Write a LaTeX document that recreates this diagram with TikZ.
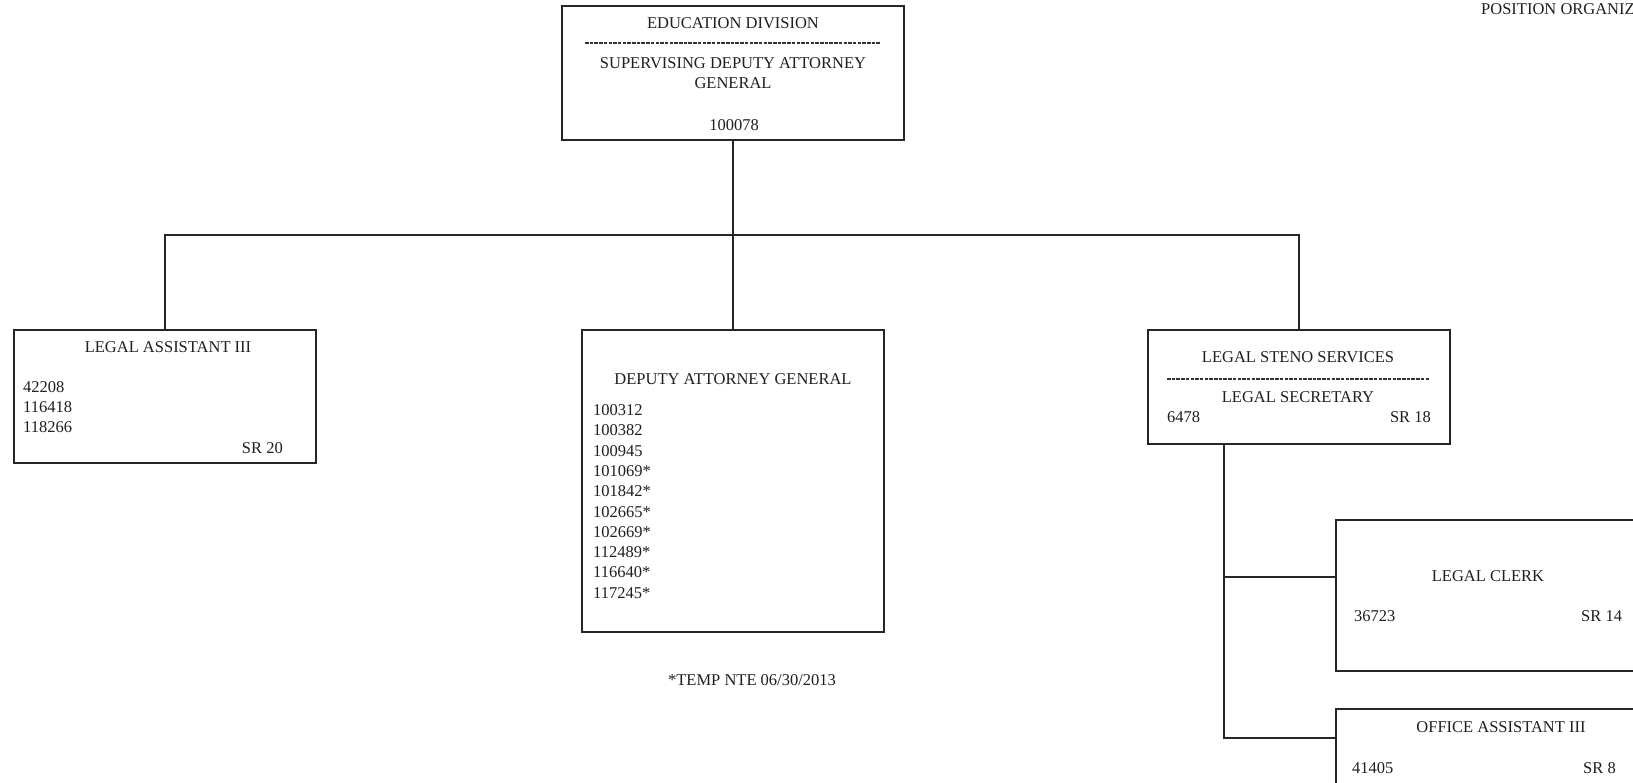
\documentclass[tikz,border=0pt]{standalone}
\usepackage{fontspec}
\setmainfont{Liberation Serif}
\begin{document}
\begin{tikzpicture}[x=1pt,y=-1pt,
  line/.style={draw=black!85, line width=1.8pt},
  box/.style={draw=black!85, line width=1.8pt, rectangle, inner sep=0pt},
  txt/.style={inner sep=0pt, text height=11pt, text depth=0pt, font=\fontsize{16.5}{20}\selectfont, text=black!88},
  sepline/.style={draw=black!80, line width=1.1pt, dash pattern=on 3.5pt off 1.2pt}]
\useasboundingbox (0,0) rectangle (1633,783);
\clip (0,0) rectangle (1633,783);
\fill[white] (0,0) rectangle (1633,783);

% boxes
\node[box, minimum width=342pt, minimum height=134pt] (top) at (733,73) {};
\node[box, minimum width=302pt, minimum height=133pt] (la) at (165,396.5) {};
\node[box, minimum width=302pt, minimum height=302pt] (dag) at (733,481) {};
\node[box, minimum width=302pt, minimum height=114pt] (ls) at (1299,387) {};
\node[box, minimum width=304pt, minimum height=151pt] (lc) at (1488,595.5) {};
\node[box, minimum width=304pt, minimum height=130pt] (oa) at (1488,774) {};

% connectors
\coordinate (bus) at (733,235);
\draw[line] (top.south) -- (bus);
\draw[line] (la.north) |- (bus) -| (ls.north);
\draw[line] (dag.north) -- (dag.north |- bus);
\coordinate (sv) at (1224,444);
\coordinate (lcin) at (1336,577);
\coordinate (oain) at (1336,738);
\draw[line] (sv) |- (oain);
\draw[line] (sv |- lcin) -- (lcin);

% top box text
\node[txt] (t1) at (733,23) {EDUCATION DIVISION};
\draw[sepline] (585,43) -- (880,43);
\node[txt] (t2) at (733,63) {SUPERVISING DEPUTY ATTORNEY};
\node[txt] (t3) at (733,83) {GENERAL};
\node[txt] (t4) at (734,125) {100078};

% legal assistant
\node[txt] (la1) at (168,347) {LEGAL ASSISTANT III};
\node[txt, anchor=west] (la2) at (23,387) {42208};
\node[txt, anchor=west] (la3) at (23,407) {116418};
\node[txt, anchor=west] (la4) at (23,427) {118266};
\node[txt, anchor=east] (la5) at (283,448) {SR 20};

% deputy attorney general
\node[txt] (d0) at (733,379) {DEPUTY ATTORNEY GENERAL};
\foreach \n [count=\i from 0] in {100312,100382,100945,101069*,101842*,102665*,102669*,112489*,116640*,117245*}
  \node[txt, anchor=west] (d\n) at (593,410+20.3*\i) {\n};
\node[txt] (temp) at (752,680) {*TEMP NTE 06/30/2013};

% legal steno
\node[txt] (ls1) at (1298,357) {LEGAL STENO SERVICES};
\draw[sepline] (1167,379) -- (1429,379);
\node[txt] (ls2) at (1298,397) {LEGAL SECRETARY};
\node[txt, anchor=west] (ls3) at (1167,417) {6478};
\node[txt, anchor=east] (ls4) at (1431,417) {SR 18};

% legal clerk
\node[txt] (lc1) at (1488,576) {LEGAL CLERK};
\node[txt, anchor=west] (lc2) at (1354,616) {36723};
\node[txt, anchor=west] (lc3) at (1581,616) {SR 14};

% office assistant
\node[txt] (oa1) at (1501,727) {OFFICE ASSISTANT III};
\node[txt, anchor=west] (oa2) at (1352,768) {41405};
\node[txt, anchor=west] (oa3) at (1583,768) {SR 8};

% header
\node[txt, anchor=west] (hdr) at (1481,9) {POSITION ORGANIZ};
\end{tikzpicture}
\end{document}
